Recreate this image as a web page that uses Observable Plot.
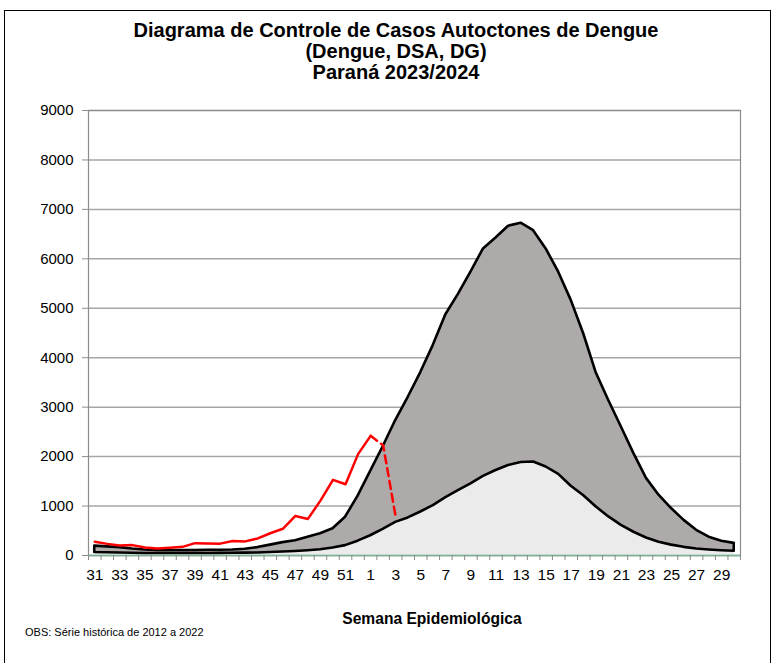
<!DOCTYPE html>
<html>
<head>
<meta charset="utf-8">
<script src="https://cdn.jsdelivr.net/npm/d3@7"></script>
<script src="https://cdn.jsdelivr.net/npm/@observablehq/plot@0.6"></script>
<style>
  body { margin:0; width:774px; height:663px; position:relative; background:#fff; overflow:hidden;
         font-family:"Liberation Sans", Arial, sans-serif; }
  #frame { position:absolute; left:4px; top:10px; width:765px; height:700px; border:1.5px solid #000; }
  .title { position:absolute; left:0; width:792px; text-align:center; font-weight:bold; font-size:20px; line-height:21px; color:#000; }
  #chart { position:absolute; left:0; top:100px; }
  #xlabel { position:absolute; left:0; width:864px; top:610px; text-align:center; font-weight:bold; font-size:15.6px; }
  #obs { position:absolute; left:25px; top:626px; font-family:"Liberation Sans Narrow","Arial Narrow","Liberation Sans",sans-serif; font-size:11px; }
</style>
</head>
<body>
<div id="frame"></div>
<div class="title" style="top:20px">Diagrama de Controle de Casos Autoctones de Dengue</div>
<div class="title" style="top:41px">(Dengue, DSA, DG)</div>
<div class="title" style="top:62px">Paraná 2023/2024</div>
<div id="chart"></div>
<div id="xlabel">Semana Epidemiológica</div>
<div id="obs">OBS: Série histórica de 2012 a 2022</div>
<script>
// Semanas epidemiológicas (31/2023 a 30/2024)
const semanas = [31,32,33,34,35,36,37,38,39,40,41,42,43,44,45,46,47,48,49,50,51,52,
                 1,2,3,4,5,6,7,8,9,10,11,12,13,14,15,16,17,18,19,20,21,22,23,24,25,26,27,28,29,30];
// Limite superior (série histórica 2012-2022)
const limiteSuperior = [190,175,160,130,110,100,100,100,100,105,105,110,125,160,210,260,300,370,440,540,775,1200,
                        1700,2200,2730,3200,3700,4250,4870,5280,5730,6200,6420,6660,6720,6570,6200,5730,5160,4480,
                        3690,3130,2600,2060,1560,1220,950,710,510,370,290,245];
// Média (série histórica)
const media = [60,55,50,45,40,40,40,40,40,40,42,45,48,52,60,70,80,95,115,150,200,290,
               400,530,670,760,880,1010,1170,1310,1450,1600,1720,1820,1880,1890,1790,1640,1400,1210,
               980,780,610,470,355,270,210,165,130,110,95,85];
// Casos 2023/2024
const casos = [280,235,200,210,160,140,155,175,250,245,240,295,285,345,450,540,800,740,1110,1530,1440,2050,
               2420,2230,780];
const inicioTracejado = 22; // a partir da semana 1 a linha é tracejada
const yTicks = [0,1000,2000,3000,4000,5000,6000,7000,8000,9000];

const tabela = semanas.map((s, i) => ({i, semana: s, superior: limiteSuperior[i], media: media[i], casos: casos[i]}));
const casosTab = tabela.filter(d => d.casos != null);
const limites = d3.range(-0.5, semanas.length, 1);
const rotulos = d3.range(0, semanas.length, 2);

const chart = Plot.plot({
  width: 774,
  height: 490,
  marginLeft: 88,
  marginRight: 34,
  marginTop: 10,
  marginBottom: 35,
  style: {fontFamily: "'Liberation Sans', Arial, sans-serif", fontSize: "15px", color: "#000", background: "transparent"},
  x: {domain: [-0.5, semanas.length - 0.5], axis: null},
  y: {domain: [0, 9000], axis: null},
  marks: [
    Plot.gridY(yTicks, {stroke: "#a6a6a6", strokeOpacity: 1, strokeWidth: 1.5}),
    Plot.areaY(tabela, {x: "i", y: "media", fill: "#ebebeb"}),
    Plot.frame({stroke: "#8c8c8c", strokeWidth: 1.2}),
    Plot.ruleY([0], {stroke: "#79b597", strokeWidth: 1.3}),
    Plot.areaY(tabela, {x: "i", y1: "media", y2: "superior", fill: "#aeaaa9", stroke: "#000",
                        strokeWidth: 2.6, strokeLinejoin: "round"}),
    Plot.line(casosTab.filter(d => d.i <= inicioTracejado), {x: "i", y: "casos", stroke: "#ff0000", strokeWidth: 2.5}),
    Plot.line(casosTab.filter(d => d.i >= inicioTracejado), {x: "i", y: "casos", stroke: "#ff0000", strokeWidth: 2.5,
                        strokeDasharray: "8,5"}),
    Plot.axisX(limites, {tickSize: 5, tickFormat: () => "", stroke: "#8c8c8c", label: null}),
    Plot.axisX(rotulos, {tickSize: 0, tickPadding: 13, tickFormat: i => String(semanas[i]), fill: "#000", fontSize: 15.5, label: null}),
    Plot.axisY(yTicks, {tickSize: 6, tickPadding: 9, tickFormat: d => String(d), stroke: "#8c8c8c", fill: "#000", fontSize: 15, label: null})
  ]
});
document.getElementById("chart").appendChild(chart);
</script>
</body>
</html>
